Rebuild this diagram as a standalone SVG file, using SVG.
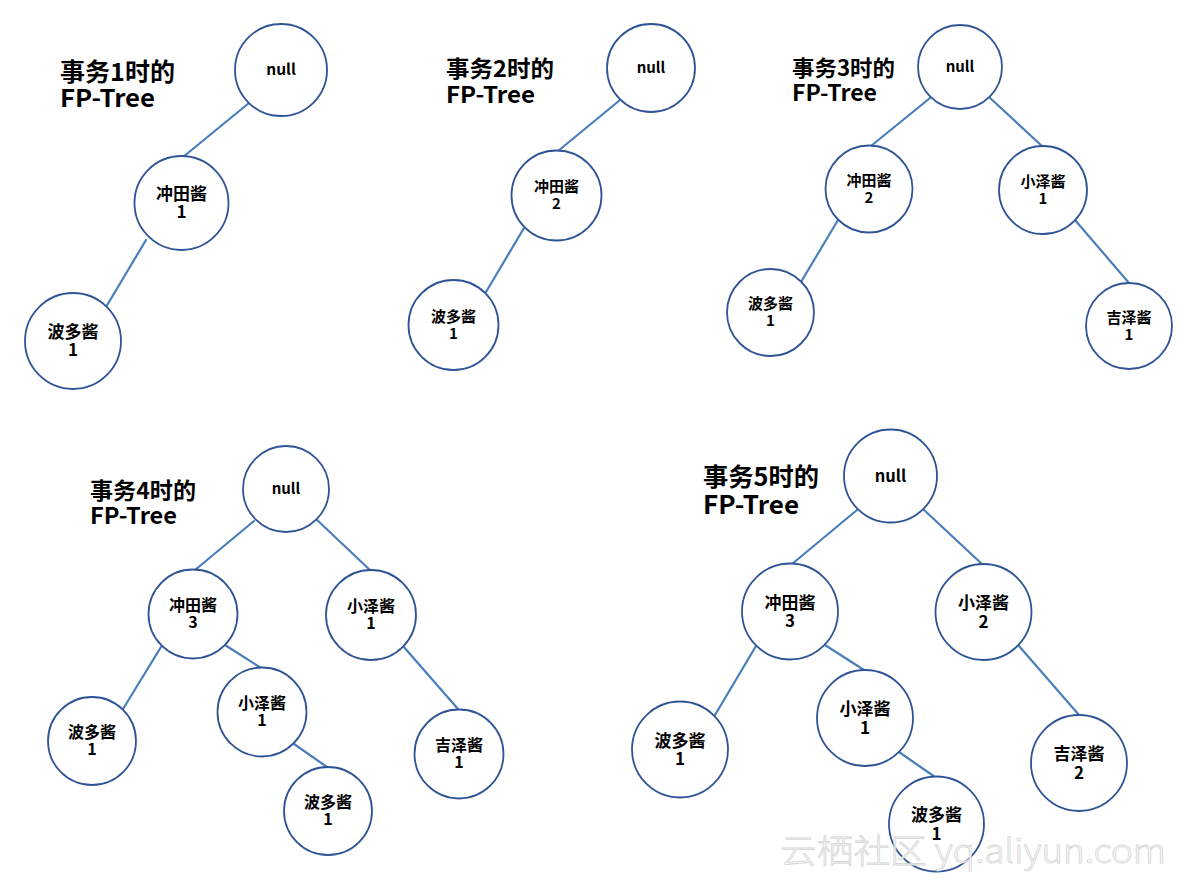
<svg xmlns="http://www.w3.org/2000/svg" width="1179" height="883" viewBox="0 0 1179 883">
<style>
.bg{fill:#ffffff}
.n circle{fill:#ffffff;stroke:#2f5496;stroke-width:1.8}
.n text{font-family:"Noto Sans CJK SC","Liberation Sans",sans-serif;font-weight:bold;fill:#000;text-anchor:middle}
.conn line{stroke:#4a7ebb;stroke-width:2.2;stroke-linecap:round}
.title{font-family:"Noto Sans CJK SC","Liberation Sans",sans-serif;font-weight:bold;fill:#000}
.wm{font-family:"Noto Sans CJK SC","Liberation Sans",sans-serif;font-weight:300;fill:#fbfbfb;stroke:#d4d4d4;stroke-width:0.8}
.t1 text{font-size:17px}
.t2 text{font-size:15px}
.t3 text{font-size:15px}
.t4 text{font-size:16px}
.t5 text{font-size:17px}
</style>
<rect class="bg" x="0" y="0" width="1179" height="883"/>

<!-- titles -->
<g id="titles">
<text class="title" x="60" y="81" font-size="24.5" textLength="115" lengthAdjust="spacingAndGlyphs">事务1时的</text>
<text class="title" x="60" y="107" font-size="24.5" textLength="95" lengthAdjust="spacingAndGlyphs">FP-Tree</text>
<text class="title" x="446" y="77" font-size="23" textLength="108" lengthAdjust="spacingAndGlyphs">事务2时的</text>
<text class="title" x="446" y="103" font-size="23" textLength="89" lengthAdjust="spacingAndGlyphs">FP-Tree</text>
<text class="title" x="792" y="76" font-size="22" textLength="103" lengthAdjust="spacingAndGlyphs">事务3时的</text>
<text class="title" x="792" y="101" font-size="22" textLength="85" lengthAdjust="spacingAndGlyphs">FP-Tree</text>
<text class="title" x="90" y="499" font-size="23" textLength="106" lengthAdjust="spacingAndGlyphs">事务4时的</text>
<text class="title" x="90" y="524" font-size="23" textLength="87" lengthAdjust="spacingAndGlyphs">FP-Tree</text>
<text class="title" x="703" y="486" font-size="25.5" textLength="116" lengthAdjust="spacingAndGlyphs">事务5时的</text>
<text class="title" x="703" y="514" font-size="25.5" textLength="96" lengthAdjust="spacingAndGlyphs">FP-Tree</text>
</g>

<!-- connectors -->
<g id="connectors" class="conn">
<line x1="249" y1="103" x2="183" y2="157"/>
<line x1="146" y1="240" x2="106" y2="307"/>

<line x1="620" y1="100" x2="558" y2="151"/>
<line x1="524" y1="228" x2="486" y2="292"/>

<line x1="930" y1="98" x2="871" y2="146"/>
<line x1="989" y1="97" x2="1043" y2="147"/>
<line x1="838" y1="220" x2="801" y2="282"/>
<line x1="1075" y1="220" x2="1129" y2="283"/>

<line x1="254" y1="521" x2="195" y2="570"/>
<line x1="316" y1="519" x2="371" y2="571"/>
<line x1="161" y1="647" x2="123" y2="709"/>
<line x1="225" y1="645" x2="261" y2="668"/>
<line x1="403" y1="646" x2="458" y2="709"/>
<line x1="294" y1="744" x2="327" y2="767"/>

<line x1="857" y1="510" x2="792" y2="564"/>
<line x1="923" y1="509" x2="983" y2="565"/>
<line x1="756" y1="646" x2="715" y2="715"/>
<line x1="825" y1="645" x2="864" y2="670"/>
<line x1="1019" y1="646" x2="1079" y2="715"/>
<line x1="899" y1="752" x2="935" y2="777"/>
</g>

<!-- tree 1 -->
<g class="t1">
<g id="t1-null" class="n"><circle cx="281" cy="70" r="46"/><text x="281" y="75" style="font-size:15.5px">null</text></g>
<g id="t1-chongtian" class="n"><circle cx="181.5" cy="203" r="47"/><text x="181.5" y="200"><tspan x="181.5">冲田酱</tspan><tspan x="181.5" dy="18">1</tspan></text></g>
<g id="t1-boduo" class="n"><circle cx="73" cy="341" r="48"/><text x="73" y="338"><tspan x="73">波多酱</tspan><tspan x="73" dy="18">1</tspan></text></g>
</g>

<!-- tree 2 -->
<g class="t2">
<g id="t2-null" class="n"><circle cx="651" cy="68" r="44"/><text x="651" y="73" style="font-size:15px">null</text></g>
<g id="t2-chongtian" class="n"><circle cx="556.5" cy="195.5" r="45"/><text x="556.5" y="192"><tspan x="556.5">冲田酱</tspan><tspan x="556.5" dy="17">2</tspan></text></g>
<g id="t2-boduo" class="n"><circle cx="453.5" cy="325" r="45"/><text x="453.5" y="321.5"><tspan x="453.5">波多酱</tspan><tspan x="453.5" dy="17">1</tspan></text></g>
</g>

<!-- tree 3 -->
<g class="t3">
<g id="t3-null" class="n"><circle cx="960" cy="67" r="42"/><text x="960" y="72" style="font-size:15px">null</text></g>
<g id="t3-chongtian" class="n"><circle cx="869" cy="189" r="43.5"/><text x="869" y="186"><tspan x="869">冲田酱</tspan><tspan x="869" dy="17">2</tspan></text></g>
<g id="t3-xiaoze" class="n"><circle cx="1043" cy="190" r="44"/><text x="1043" y="187"><tspan x="1043">小泽酱</tspan><tspan x="1043" dy="17">1</tspan></text></g>
<g id="t3-boduo" class="n"><circle cx="770.5" cy="312.5" r="43.5"/><text x="770.5" y="309"><tspan x="770.5">波多酱</tspan><tspan x="770.5" dy="17">1</tspan></text></g>
<g id="t3-jize" class="n"><circle cx="1129" cy="326" r="43"/><text x="1129" y="323"><tspan x="1129">吉泽酱</tspan><tspan x="1129" dy="17">1</tspan></text></g>
</g>

<!-- tree 4 -->
<g class="t4">
<g id="t4-null" class="n"><circle cx="286" cy="489" r="43"/><text x="286" y="494" style="font-size:15px">null</text></g>
<g id="t4-chongtian" class="n"><circle cx="193" cy="614" r="44.5"/><text x="193" y="611"><tspan x="193">冲田酱</tspan><tspan x="193" dy="17">3</tspan></text></g>
<g id="t4-xiaoze" class="n"><circle cx="371" cy="615" r="45"/><text x="371" y="612"><tspan x="371">小泽酱</tspan><tspan x="371" dy="17">1</tspan></text></g>
<g id="t4-boduo" class="n"><circle cx="92" cy="741" r="44"/><text x="92" y="738"><tspan x="92">波多酱</tspan><tspan x="92" dy="17">1</tspan></text></g>
<g id="t4-xiaoze2" class="n"><circle cx="262" cy="712" r="44.5"/><text x="262" y="709"><tspan x="262">小泽酱</tspan><tspan x="262" dy="17">1</tspan></text></g>
<g id="t4-jize" class="n"><circle cx="459" cy="754" r="44.5"/><text x="459" y="751"><tspan x="459">吉泽酱</tspan><tspan x="459" dy="17">1</tspan></text></g>
<g id="t4-boduo2" class="n"><circle cx="328" cy="811" r="44"/><text x="328" y="808"><tspan x="328">波多酱</tspan><tspan x="328" dy="17">1</tspan></text></g>
</g>

<!-- tree 5 -->
<g class="t5">
<g id="t5-null" class="n"><circle cx="890.5" cy="476" r="46.5"/><text x="890.5" y="482" style="font-size:16.5px">null</text></g>
<g id="t5-chongtian" class="n"><circle cx="790" cy="611.5" r="48"/><text x="790" y="608.5"><tspan x="790">冲田酱</tspan><tspan x="790" dy="18.5">3</tspan></text></g>
<g id="t5-xiaoze" class="n"><circle cx="983.5" cy="612" r="48"/><text x="983.5" y="609"><tspan x="983.5">小泽酱</tspan><tspan x="983.5" dy="18.5">2</tspan></text></g>
<g id="t5-boduo" class="n"><circle cx="680" cy="749.5" r="48"/><text x="680" y="746.5"><tspan x="680">波多酱</tspan><tspan x="680" dy="18.5">1</tspan></text></g>
<g id="t5-xiaoze2" class="n"><circle cx="865" cy="718" r="48"/><text x="865" y="715"><tspan x="865">小泽酱</tspan><tspan x="865" dy="18.5">1</tspan></text></g>
<g id="t5-jize" class="n"><circle cx="1079" cy="763" r="48"/><text x="1079" y="760"><tspan x="1079">吉泽酱</tspan><tspan x="1079" dy="18.5">2</tspan></text></g>
<g id="t5-boduo2" class="n"><circle cx="936.5" cy="824" r="47.5"/><text x="936.5" y="821"><tspan x="936.5">波多酱</tspan><tspan x="936.5" dy="18.5">1</tspan></text></g>
</g>

<!-- watermark -->
<text class="wm" x="780" y="863" font-size="33" textLength="386" lengthAdjust="spacingAndGlyphs" opacity="0.9">云栖社区 yq.aliyun.com</text>
</svg>
